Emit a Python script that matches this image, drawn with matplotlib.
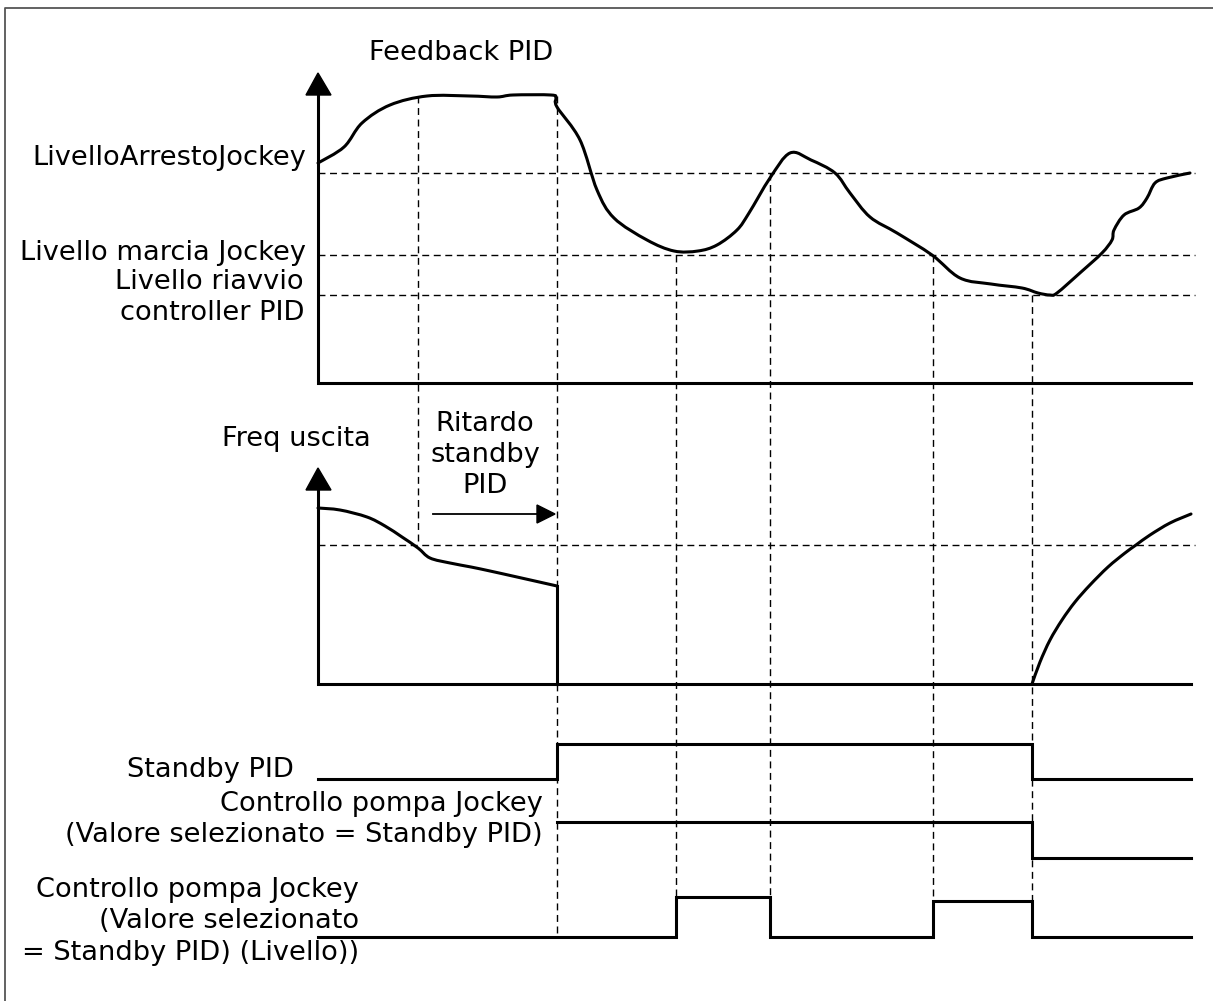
import matplotlib
matplotlib.use("Agg")
import matplotlib.pyplot as plt
from matplotlib.path import Path
from matplotlib.patches import PathPatch

# ---------------- data (pixel coordinates) ----------------
# Feedback PID curve
fb_x = [318, 344, 362, 390, 427, 470, 497, 513, 551, 556, 557, 580, 597, 614, 647, 674, 698, 717,
        737, 749, 770, 790, 811, 835, 850, 870, 897, 932, 960, 991, 1022, 1038, 1050, 1057, 1081,
        1102, 1112, 1114, 1124, 1139, 1147, 1155, 1167, 1190]
fb_y = [163, 147, 123, 105, 96, 96, 97, 95, 95, 98, 107, 140, 190, 218, 240, 251, 251, 245,
        230, 213, 178, 153, 160, 173, 193, 217, 233, 255, 278, 284, 288, 293, 295, 293, 272,
        253, 240, 230, 215, 208, 198, 183, 178, 173]

# threshold levels of the feedback panel
lvl_arresto = 173
lvl_marcia = 255
lvl_riavvio = 295

# Output frequency curve (falling part, then rising part)
fq1_x = [318, 340, 367, 385, 402, 418, 430, 450, 471, 490, 517, 557]
fq1_y = [508, 510, 517, 526, 537, 548, 558, 563, 567, 571, 577, 586]
fq_drop_x = [557, 557]
fq_drop_y = [586, 684]
fq2_x = [1032, 1040, 1050, 1062, 1075, 1090, 1108, 1125, 1136, 1150, 1170, 1191]
fq2_y = [684, 662, 640, 620, 602, 585, 567, 553, 545, 535, 523, 514]
lvl_freq = 545

# event times (vertical dashed guides): x, top y, bottom y
ev_x = [418, 557, 676, 770, 933, 1032]
ev_top = [96, 96, 255, 173, 255, 295]
ev_bot = [545, 937, 897, 897, 901, 937]

# digital signals (step points)
sb_x = [318, 557, 557, 1032, 1032, 1191]
sb_y = [779, 779, 744, 744, 779, 779]
cp_x = [557, 1032, 1032, 1191]
cp_y = [822, 822, 858, 858]
lv_x = [318, 676, 676, 770, 770, 933, 933, 1032, 1032, 1191]
lv_y = [937, 937, 897, 897, 937, 937, 901, 901, 937, 937]

# ---------------- drawing ----------------
W, H = 1213, 1001
fig = plt.figure(figsize=(W / 100, H / 100), dpi=100)
ax = fig.add_axes([0, 0, 1, 1])
ax.set_xlim(0, W)
ax.set_ylim(H, 0)
ax.axis("off")

LW = 2.2
DLW = 1.0
dash = (0, (5.0, 3.3))
fs = 19.6
font = "DejaVu Sans"


def smooth_curve(xs, ys, **kw):
    """Catmull-Rom curve through the read points, rendered as cubic Bezier path."""
    pts = list(zip(xs, ys))
    verts = [pts[0]]
    codes = [Path.MOVETO]
    n = len(pts)
    for i in range(n - 1):
        p0 = pts[i - 1] if i > 0 else pts[i]
        p1 = pts[i]
        p2 = pts[i + 1]
        p3 = pts[i + 2] if i + 2 < n else pts[i + 1]
        c1 = (p1[0] + (p2[0] - p0[0]) / 6.0, p1[1] + (p2[1] - p0[1]) / 6.0)
        c2 = (p2[0] - (p3[0] - p1[0]) / 6.0, p2[1] - (p3[1] - p1[1]) / 6.0)
        verts += [c1, c2, p2]
        codes += [Path.CURVE4, Path.CURVE4, Path.CURVE4]
    ax.add_patch(PathPatch(Path(verts, codes), fill=False, **kw))


# frame
ax.plot([5, 5, W + 5], [H + 5, 8, 8], color="#555555", lw=1.3, solid_capstyle="butt")

# feedback panel axes
ax.plot([318, 318, 1191], [95, 383, 383], color="black", lw=LW, solid_joinstyle="miter")
ax.fill([318, 306, 331], [73, 95, 95], color="black")
# freq panel axes
ax.plot([318, 318, 1191], [490, 684, 684], color="black", lw=LW, solid_joinstyle="miter")
ax.fill([318, 306, 331], [468, 490, 490], color="black")

# horizontal dashed thresholds
for y in (lvl_arresto, lvl_marcia, lvl_riavvio):
    ax.plot([318, 1195], [y, y], color="black", lw=DLW, linestyle=dash)
ax.plot([318, 1195], [lvl_freq, lvl_freq], color="black", lw=DLW, linestyle=dash)

# vertical dashed guides
for x, t, b in zip(ev_x, ev_top, ev_bot):
    ax.plot([x, x], [t, b], color="black", lw=DLW, linestyle=dash)

# curves
smooth_curve(fb_x, fb_y, edgecolor="black", lw=LW, joinstyle="round", capstyle="round")
smooth_curve(fq1_x, fq1_y, edgecolor="black", lw=LW, joinstyle="round", capstyle="round")
ax.plot(fq_drop_x, fq_drop_y, color="black", lw=LW)
smooth_curve(fq2_x, fq2_y, edgecolor="black", lw=LW, joinstyle="round", capstyle="round")

# digital signals
ax.plot(sb_x, sb_y, color="black", lw=LW, solid_joinstyle="miter")
ax.plot(cp_x, cp_y, color="black", lw=LW, solid_joinstyle="miter")
ax.plot(lv_x, lv_y, color="black", lw=LW, solid_joinstyle="miter")

# delay arrow
ax.plot([433, 540], [514, 514], color="black", lw=1.3)
ax.fill([555, 537, 537], [514, 505, 523], color="black")


# texts
def txt(x, y, s, ha="right"):
    ax.text(x, y, s, ha=ha, va="center", fontsize=fs, family=font, color="black")


txt(461, 53, "Feedback PID", ha="center")
txt(306, 158, "LivelloArrestoJockey")
txt(306, 253, "Livello marcia Jockey")
txt(304, 282, "Livello riavvio")
txt(304, 313, "controller PID")
txt(296, 439, "Freq uscita", ha="center")
ax.text(485, 455, "Ritardo\nstandby\nPID", ha="center", va="center", fontsize=fs,
        family=font, linespacing=1.24)
txt(294, 770, "Standby PID")
txt(543, 804, "Controllo pompa Jockey")
txt(543, 835, "(Valore selezionato = Standby PID)")
txt(359, 890, "Controllo pompa Jockey")
txt(359, 921, "(Valore selezionato")
txt(359, 953, "= Standby PID) (Livello))")

fig.savefig("out.png", dpi=100)
